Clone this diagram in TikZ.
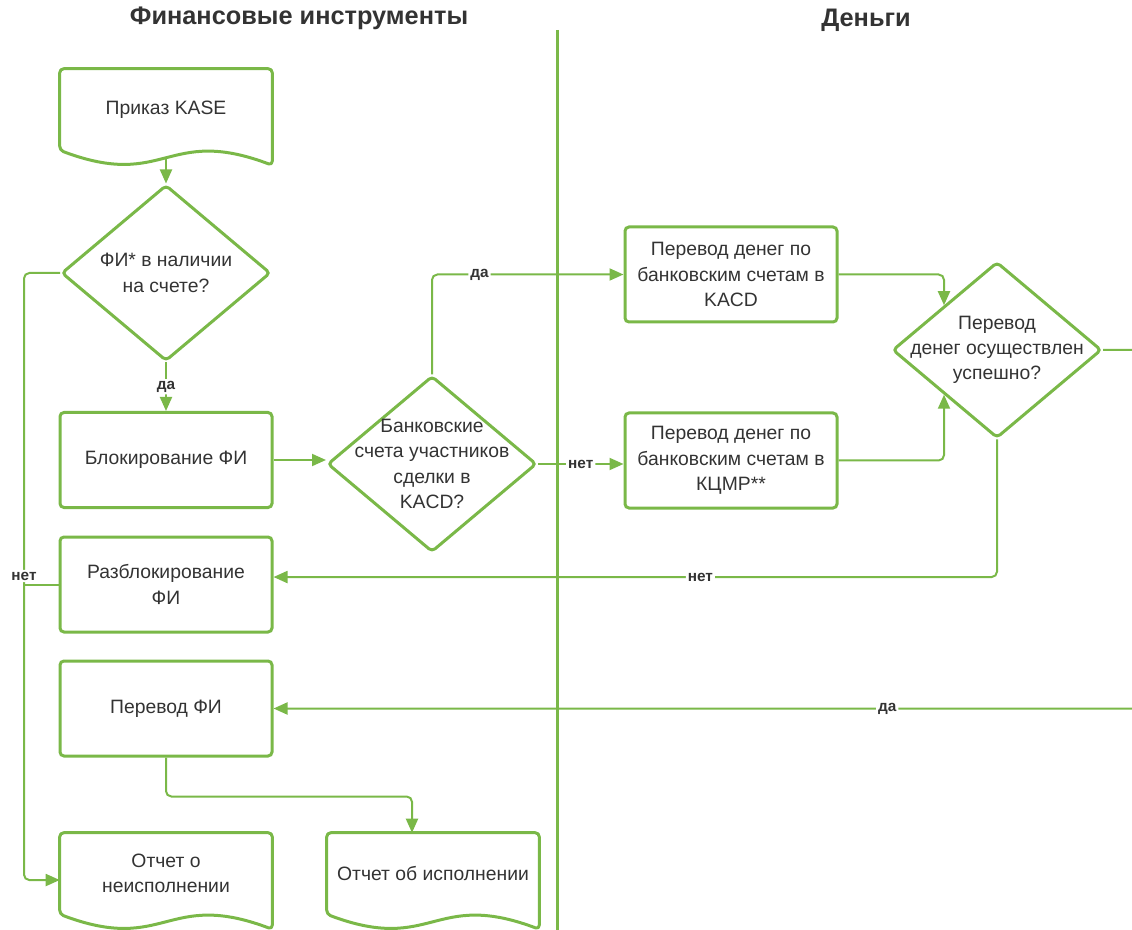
\documentclass[tikz,border=0pt]{standalone}
\usepackage{fontspec}
\setmainfont{Liberation Sans}
\usepackage{tikz}
\usetikzlibrary{shapes.geometric, arrows.meta, positioning, calc}
\definecolor{lgreen}{RGB}{122, 184, 72}
\definecolor{txtgray}{RGB}{51, 51, 51}
\newcommand{\flowfont}{\fontsize{14.5}{19}\selectfont}
\newcommand{\docwave}[1]{%
  \draw[docline] (#1.north) -- (#1.north east) -- ([yshift=-11.25pt]#1.south east)
    .. controls ([yshift=18.75pt]#1.south) and ([yshift=-30pt]#1.south) .. (#1.south west)
    -- (#1.north west) -- cycle;}

\begin{document}
\begin{tikzpicture}[
    x=0.75pt, y=-0.75pt,
    box/.style={rectangle, rounded corners=3pt, draw=lgreen, line width=2.25pt,
                minimum width=159pt, minimum height=71.25pt,
                font=\flowfont, text=txtgray, align=center},
    decision/.style={diamond, rounded corners=3pt, draw=lgreen, line width=2.25pt,
                     minimum width=156.75pt, minimum height=132pt, inner sep=0pt},
    docnode/.style={rectangle, minimum width=159pt, minimum height=60.75pt,
                    font=\flowfont, text=txtgray, align=center},
    docline/.style={draw=lgreen, line width=2.25pt, rounded corners=3pt, line join=round},
    txt/.style={font=\flowfont, text=txtgray, align=center},
    arr/.style={-{Triangle[length=10.5pt, width=9pt]}, draw=lgreen, line width=1.5pt,
                rounded corners=4pt},
    link/.style={draw=lgreen, line width=1.5pt, rounded corners=4pt},
    lbl/.style={font=\bfseries\fontsize{11.5}{13}\selectfont, text=txtgray,
                fill=white, inner sep=1.5pt},
    title/.style={font=\bfseries\fontsize{19}{22}\selectfont, text=txtgray}
]
\useasboundingbox (0,0) rectangle (1132,930);
\clip (0,0) rectangle (1132,930);

% lanes
\node[title] (tfin)   at (299,18) {Финансовые инструменты};
\node[title] (tmoney) at (866,20) {Деньги};
\draw[lgreen, line width=2.25pt] (557,30) -- (557,935);

% left lane
\node[docnode] (order) at (166,109.5) {Приказ KASE};
\docwave{order}
\node[decision] (d1) at (166,273) {};
\node[txt] (d1t) at (d1) {ФИ* в наличии\\на счете?};
\node[box] (block)   at (166,460)   {Блокирование ФИ};
\node[box] (unblock) at (166,584.5) {Разблокирование\\ФИ};
\node[box] (trans)   at (166,708.5) {Перевод ФИ};
\node[docnode] (rep1) at (166,873.5) {Отчет о\\неисполнении};
\docwave{rep1}
\node[docnode] (rep2) at (433,873.5) {Отчет об исполнении};
\docwave{rep2}
\node[decision] (d2) at (432,464) {};
\node[txt] (d2t) at (d2) {Банковские\\счета участников\\сделки в\\KACD?};

% right lane
\node[box] (kacd) at (731,274.5) {Перевод денег по\\банковским счетам в\\KACD};
\node[box] (kcmr) at (731,460.5) {Перевод денег по\\банковским счетам в\\КЦМР**};
\node[decision] (d3) at (997,350) {};
\node[txt] (d3t) at (d3) {Перевод\\денег осуществлен\\успешно?};

% connectors
\draw[arr] ([yshift=-5.6pt]order.south) -- (d1.north);
\draw[arr] (d1.south) -- node[lbl]{да} (block.north);
\draw[arr] (block.east) -- (block.east -| d2.west);
\draw[arr] (d2.north) |- node[lbl, pos=0.624]{да} (kacd.west);
\draw[arr] (d2.east) -- node[lbl]{нет} (d2.east -| kcmr.west);
\draw[arr] (kacd.east) -| (d3.north west);
\draw[arr] (kcmr.east) -| (d3.south west);
\draw[arr] (d3.south) |- node[lbl, pos=0.705]{нет} ([yshift=5.6pt]unblock.east);
\draw[arr] (d3.east) -- ++(60,0) |- node[lbl, pos=0.655]{да} (trans.east);
\draw[link] (unblock.west) -- ++(-36,0);
\draw[arr] (d1.west) -| (24,576) node[lbl] (no1) {нет} |- ([yshift=-4.9pt]rep1.west);
\draw[arr] (trans.south) -- ++(0,39) -| ([xshift=-15.75pt]rep2.north);
\end{tikzpicture}
\end{document}
